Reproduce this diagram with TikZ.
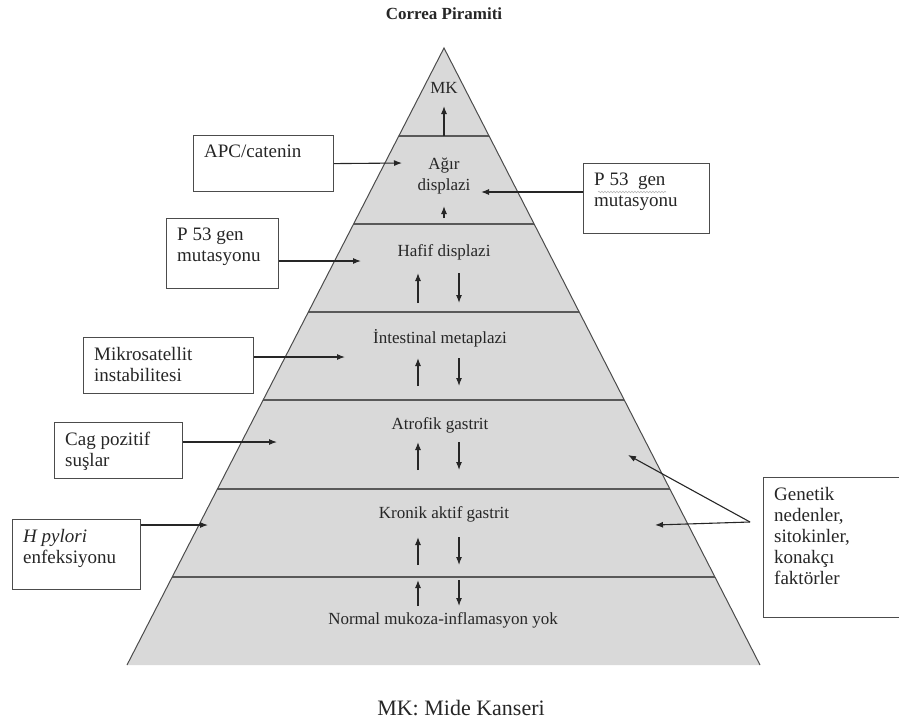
\documentclass[tikz,border=0pt]{standalone}
\usepackage{fontspec}
\setmainfont{Liberation Serif}
\usetikzlibrary{arrows.meta,positioning,calc,decorations.pathmorphing}

\begin{document}
\begin{tikzpicture}[
    x=1pt,
    y=-1pt,
    stage/.style={
        font=\fontsize{17}{21}\selectfont,
        text=black!85,
        align=center,
        inner sep=1pt
    },
    factor/.style 2 args={
        rectangle,
        draw=black!70,
        line width=1.2pt,
        fill=white,
        anchor=north west,
        minimum width=#1,
        minimum height=#2
    },
    ftext/.style={
        anchor=north west,
        align=left,
        font=\fontsize{19}{21}\selectfont,
        text=black!85,
        inner xsep=11pt,
        inner ysep=10pt
    },
    side/.style={
        draw=black!70,
        line width=1pt
    },
    tier/.style={
        draw=black!65,
        line width=2pt
    },
    line/.style={
        draw=black!85,
        -{Latex[length=8pt,width=6pt]},
        line width=1.1pt
    }
]
\useasboundingbox (0,0) rectangle (899,726);

% Pyramid
\coordinate (apex) at (444,48);
\coordinate (bl) at (127,665);
\coordinate (br) at (760,665);
\fill[gray!30] (apex) -- (br) -- (bl) -- cycle;
\foreach \y in {136,224,312,400,489,577}
    \draw[tier] ($(apex)!{(\y-48)/617}!(bl)$) -- ($(apex)!{(\y-48)/617}!(br)$);
\draw[side] (bl) -- (apex) -- (br);

% Titles
\node[font=\fontsize{17}{20}\selectfont\bfseries, text=black!85] (title) at (444,14) {Correa Piramiti};
\node[font=\fontsize{22}{26}\selectfont, text=black!85] (note) at (461,708) {MK: Mide Kanseri};

% Stages
\node[stage] (mk) at (444,88) {MK};
\node[stage] (agir) at (444,176) {Ağır\\displazi};
\node[stage] (hafif) at (444,252) {Hafif displazi};
\node[stage] (intest) at (440,338) {İntestinal metaplazi};
\node[stage] (atrof) at (440,425) {Atrofik gastrit};
\node[stage] (kronik) at (444,514) {Kronik aktif gastrit};
\node[stage] (normal) at (443,620) {Normal mukoza-inflamasyon yok};

% Stage arrows
\draw[line] (444,136) -- (444,106);
\draw[line] (444,218) -- (444,206);
\foreach \a/\b in {273/303,358/386,442/470,537/565,580/606} {
    \draw[line] (418,\b) -- (418,\a);
    \draw[line] (459,\a) -- (459,\b);
}

% Factors
\node[factor={140}{56}, label={[ftext]north west:APC/catenin}] (apc) at (193,135) {};
\node[factor={126}{70}, label={[ftext]north west:{P 53~~gen\\mutasyonu}}] (p53r) at (583,163) {};
\node[factor={112}{70}, label={[ftext]north west:{P 53 gen\\mutasyonu}}] (p53l) at (166,218) {};
\node[factor={170}{56}, label={[ftext]north west:{Mikrosatellit\\instabilitesi}}] (mikro) at (83,337) {};
\node[factor={128}{56}, label={[ftext]north west:{Cag pozitif\\suşlar}}] (cag) at (54,422) {};
\node[factor={128}{70}, label={[ftext]north west:{\textit{H pylori}\\enfeksiyonu}}] (hpylori) at (12,519) {};
\node[factor={150}{140}, label={[ftext]north west:{Genetik\\nedenler,\\sitokinler,\\konakçı\\faktörler}}] (genetik) at (763,477) {};
\draw[gray!55, line width=0.6pt, decorate, decoration={snake, amplitude=0.8pt, segment length=3pt}]
    ($(p53r.north west)+(15,29)$) -- ($(p53r.north west)+(83,29)$);

% Edges
\coordinate (agirL) at (402,163);
\coordinate (agirR) at (481,192);
\coordinate (hafifL) at (361,261);
\coordinate (intestL) at (345,357);
\coordinate (atrofL) at (277,442);
\coordinate (kronikL) at (208,525);
\coordinate (split) at (750,522);
\coordinate (atrofR) at (628,455);
\coordinate (kronikR) at (655,525);
\draw[line] (apc.east) -- (agirL);
\draw[line] (p53r.west |- agirR) -- (agirR);
\draw[line] (p53l.east |- hafifL) -- (hafifL);
\draw[line] (mikro.east |- intestL) -- (intestL);
\draw[line] (cag.east |- atrofL) -- (atrofL);
\draw[line] (hpylori.east |- kronikL) -- (kronikL);
\draw[line] (split) -- (atrofR);
\draw[line] (split) -- (kronikR);

\end{tikzpicture}
\end{document}
